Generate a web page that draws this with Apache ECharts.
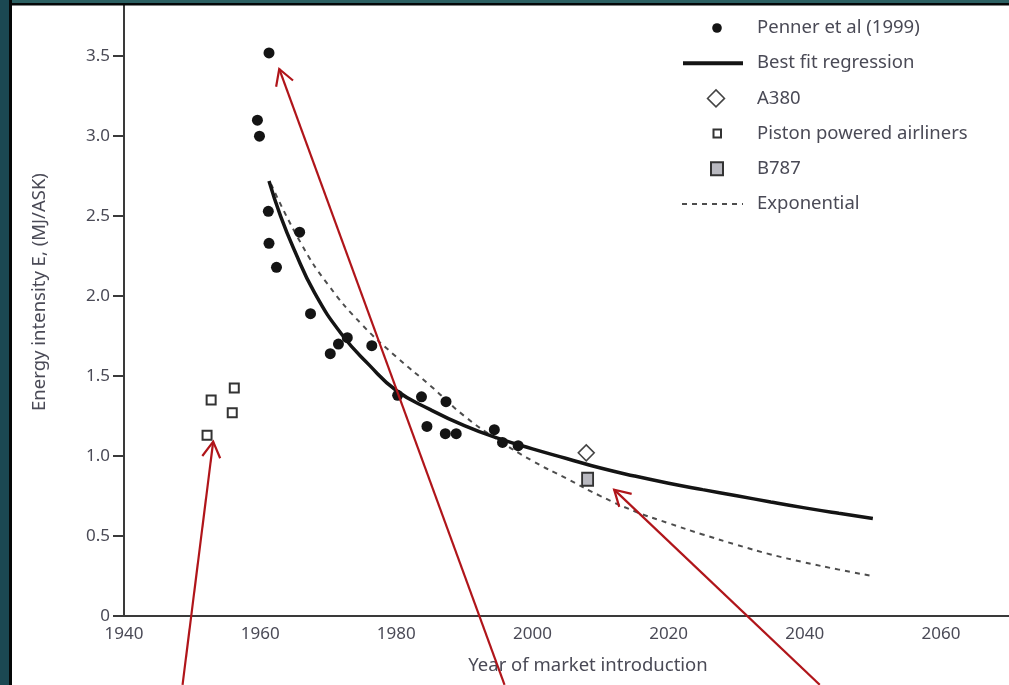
<!DOCTYPE html>
<html>
<head>
<meta charset="utf-8">
<title>Energy intensity of airliners by year of market introduction</title>
<script src="https://cdn.jsdelivr.net/npm/echarts@6/dist/echarts.min.js"></script>
<style>
  html, body { margin: 0; padding: 0; background: #ffffff; }
  #chart { width: 1009px; height: 685px; }
</style>
</head>
<body>
<div id="chart"></div>
<script>
// Penner et al (1999) jet airliners: year of introduction and energy intensity (MJ/ASK)
const pennerYears  = [1961.3, 1959.6, 1959.9, 1961.2, 1961.3, 1962.4, 1965.8, 1967.4, 1970.3, 1971.5, 1972.8, 1976.4, 1980.2, 1983.7, 1984.5, 1987.3, 1987.2, 1988.8, 1994.4, 1995.6, 1997.9];
const pennerValues = [3.52, 3.10, 3.00, 2.53, 2.33, 2.18, 2.40, 1.89, 1.64, 1.70, 1.74, 1.69, 1.38, 1.37, 1.185, 1.34, 1.14, 1.14, 1.165, 1.085, 1.065];

// Piston powered airliners
const pistonYears  = [1956.2, 1952.8, 1955.9, 1952.2];
const pistonValues = [1.425, 1.35, 1.27, 1.13];

// Newer aircraft
const a380 = [2007.9, 1.02];
const b787 = [2008.1, 0.855];

// Best fit regression curve
const fitYears  = [1961.3, 1963, 1965, 1968, 1972, 1976, 1980, 1985, 1990, 1995, 2000, 2005, 2010, 2015, 2020, 2025, 2030, 2035, 2040, 2045, 2050];
const fitValues = [2.72, 2.50, 2.29, 2.02, 1.76, 1.57, 1.41, 1.29, 1.19, 1.11, 1.045, 0.985, 0.925, 0.875, 0.83, 0.79, 0.752, 0.713, 0.676, 0.642, 0.61];

// Exponential curve
const expYears  = [1961.6, 1966, 1970, 1975, 1980, 1985, 1990, 1995, 2000, 2005, 2010, 2015, 2020, 2025, 2030, 2035, 2040, 2045, 2050];
const expValues = [2.70, 2.33, 2.07, 1.82, 1.62, 1.44, 1.25, 1.10, 0.97, 0.86, 0.75, 0.655, 0.58, 0.51, 0.445, 0.385, 0.335, 0.29, 0.25];

// Axis ticks
const xTickStart = 1940, xTickEnd = 2070, xTickStep = 20;
const yTickStart = 0, yTickEnd = 3.82, yTickStep = 0.5;

// Legend entries
const legendNames = ['Penner et al (1999)', 'Best fit regression', 'A380', 'Piston powered airliners', 'B787', 'Exponential'];

// Annotation arrows: [tipYear, tipValue, tailYear, tailValue]
const arrows = [
  [1953.1, 1.09, 1948.6, -0.43],
  [1962.8, 3.42, 1995.9, -0.43],
  [2012.0, 0.79, 2042.2, -0.43]
];

const zip = (xs, ys) => xs.map((x, i) => [x, ys[i]]);

const FONT = '"Noto Sans", "Open Sans", sans-serif';
const TEXT = '#4a4a56';
const INK = '#141414';

const chart = echarts.init(document.getElementById('chart'), null, { renderer: 'canvas' });

const option = {
  backgroundColor: '#ffffff',
  animation: false,
  grid: { left: 124, right: -4, top: 5, bottom: 69, containLabel: false },
  xAxis: {
    type: 'value',
    min: xTickStart, max: xTickEnd, interval: xTickStep,
    axisLine: { show: true, onZero: false, lineStyle: { color: '#3a3a3a', width: 2 } },
    axisTick: { show: false },
    splitLine: { show: false },
    axisLabel: { color: TEXT, fontFamily: FONT, fontSize: 17, margin: 10, showMaxLabel: false,
      formatter: v => String(v) }
  },
  yAxis: {
    type: 'value',
    min: yTickStart, max: yTickEnd, interval: yTickStep,
    axisLine: { show: true, lineStyle: { color: '#3a3a3a', width: 2 } },
    axisTick: { show: true, length: 11, lineStyle: { color: '#3a3a3a', width: 2 } },
    splitLine: { show: false },
    axisLabel: {
      color: TEXT, fontFamily: FONT, fontSize: 17, margin: 14, showMaxLabel: false,
      formatter: v => (v === 0 ? '0' : v.toFixed(1))
    }
  },
  series: [
    {
      name: 'Exponential', type: 'line', data: zip(expYears, expValues),
      smooth: 0.5, showSymbol: false, z: 2,
      lineStyle: { color: '#4d4d4d', width: 2, type: [5, 5] }
    },
    {
      name: 'Best fit regression', type: 'line', data: zip(fitYears, fitValues),
      smooth: 0.5, showSymbol: false, z: 3,
      lineStyle: { color: INK, width: 3.5 }
    },
    {
      name: 'Penner et al (1999)', type: 'scatter', data: zip(pennerYears, pennerValues),
      symbol: 'circle', symbolSize: 11, z: 4,
      itemStyle: { color: INK, opacity: 1 }
    },
    {
      name: 'Piston powered airliners', type: 'scatter', data: zip(pistonYears, pistonValues),
      symbol: 'rect', symbolSize: 9, z: 4,
      itemStyle: { color: '#ffffff', borderColor: '#333333', borderWidth: 2, opacity: 1 }
    },
    {
      name: 'A380', type: 'scatter', data: [a380],
      symbol: 'diamond', symbolSize: [16, 16], z: 4,
      itemStyle: { color: '#ffffff', borderColor: '#444444', borderWidth: 1.5, opacity: 1 }
    },
    {
      name: 'B787', type: 'scatter', data: [b787],
      symbol: 'rect', symbolSize: [11, 13], z: 4,
      itemStyle: { color: '#b9b9c0', borderColor: '#333333', borderWidth: 2, opacity: 1 }
    }
  ]
};

chart.setOption(option);

// Legend, drawn as a column of symbols and labels at the top right
const legendX = 717, legendTextX = 757, legendTop = 28, legendStep = 35.2;
const legendIcons = [
  { type: 'circle', shape: { cx: legendX, cy: 0, r: 4.8 }, style: { fill: INK } },
  { type: 'line', shape: { x1: 683, y1: 0, x2: 743, y2: 0 }, style: { stroke: INK, lineWidth: 4 } },
  { type: 'polygon', shape: { points: [[legendX - 1, -8.5], [legendX + 7.5, 0], [legendX - 1, 8.5], [legendX - 9.5, 0]] },
    style: { fill: '#ffffff', stroke: '#444444', lineWidth: 1.5 } },
  { type: 'rect', shape: { x: legendX - 3.5, y: -4, width: 7.5, height: 8 }, style: { fill: '#ffffff', stroke: '#333333', lineWidth: 2 } },
  { type: 'rect', shape: { x: legendX - 6, y: -6.5, width: 12, height: 13 }, style: { fill: '#b9b9c0', stroke: '#333333', lineWidth: 2 } },
  { type: 'line', shape: { x1: 682, y1: 0, x2: 743, y2: 0 }, style: { stroke: '#4d4d4d', lineWidth: 2, lineDash: [5, 5] } }
];

const graphics = [];

legendNames.forEach((name, i) => {
  const y = legendTop + i * legendStep;
  graphics.push({ type: 'group', x: 0, y: y, children: [
    legendIcons[i],
    { type: 'text', x: legendTextX, y: 0,
      style: { text: name, fill: TEXT, font: '18.5px ' + FONT, align: 'left', verticalAlign: 'middle' } }
  ]});
});

// Axis titles
graphics.push({
  type: 'text', x: 588, y: 666,
  style: { text: 'Year of market introduction', fill: TEXT, font: '18.5px ' + FONT, align: 'center', verticalAlign: 'middle' }
});
graphics.push({
  type: 'text', x: 40, y: 292, rotation: Math.PI / 2,
  style: { text: 'Energy intensity E, (MJ/ASK)', fill: TEXT, font: '18.5px ' + FONT, align: 'center', verticalAlign: 'middle' }
});

// Red annotation arrows, positioned in data coordinates
arrows.forEach(([tx, ty, sx, sy]) => {
  const tip = chart.convertToPixel({ gridIndex: 0 }, [tx, ty]);
  const tail = chart.convertToPixel({ gridIndex: 0 }, [sx, sy]);
  const ang = Math.atan2(tail[1] - tip[1], tail[0] - tip[0]);
  const len = 18, spread = Math.PI / 6;
  const w1 = [tip[0] + len * Math.cos(ang + spread), tip[1] + len * Math.sin(ang + spread)];
  const w2 = [tip[0] + len * Math.cos(ang - spread), tip[1] + len * Math.sin(ang - spread)];
  graphics.push({ type: 'line', z: 100, shape: { x1: tail[0], y1: tail[1], x2: tip[0], y2: tip[1] },
    style: { stroke: '#b0151a', lineWidth: 2.2 } });
  graphics.push({ type: 'polyline', z: 100, shape: { points: [w1, tip, w2] },
    style: { stroke: '#b0151a', lineWidth: 2.2, fill: null } });
});

// Dark frame along the top and left edges
graphics.push({ type: 'rect', z: 200, shape: { x: 0, y: 0, width: 1009, height: 3 }, style: { fill: '#2c6062' } });
graphics.push({ type: 'rect', z: 200, shape: { x: 0, y: 3, width: 1009, height: 2.5 }, style: { fill: '#050808' } });
graphics.push({ type: 'rect', z: 200, shape: { x: 0, y: 0, width: 9, height: 685 }, style: { fill: '#1b4852' } });
graphics.push({ type: 'rect', z: 200, shape: { x: 9, y: 0, width: 3, height: 685 }, style: { fill: '#050808' } });

chart.setOption({ graphic: graphics });
</script>
</body>
</html>
